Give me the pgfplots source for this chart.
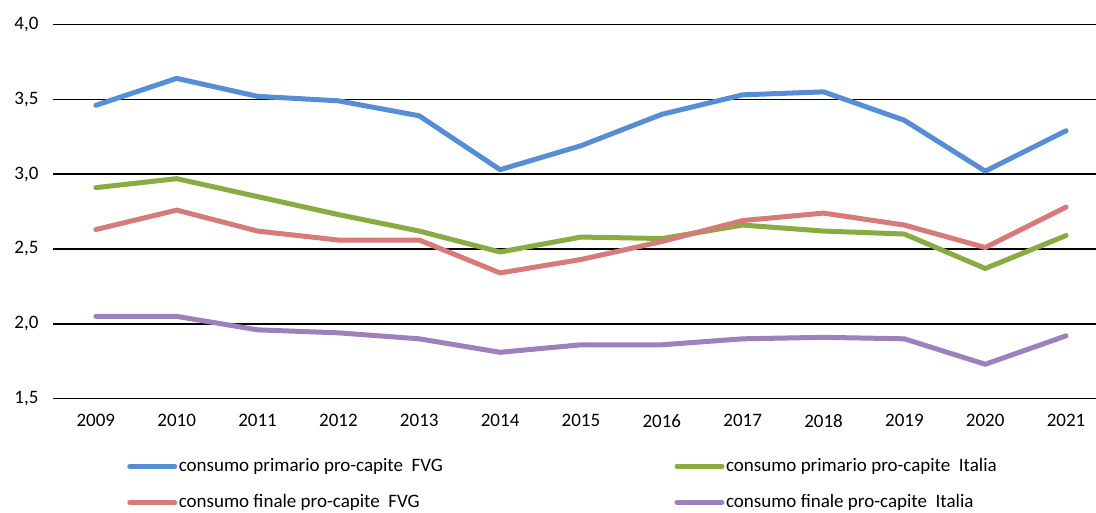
\documentclass[border=0pt]{standalone}
\usepackage{fontspec}
\setmainfont{Carlito}
\usepackage{pgfplots}
\pgfplotsset{compat=1.18}
\definecolor{cBlue}{RGB}{86,141,212}
\definecolor{cGreen}{RGB}{137,171,65}
\definecolor{cRed}{RGB}{214,122,122}
\definecolor{cPurple}{RGB}{158,128,188}
\begin{document}
\fontsize{19}{23}\selectfont
\begin{tikzpicture}
\useasboundingbox (0,0) rectangle (1096pt,513pt);
\begin{axis}[
  at={(53pt,114.3pt)}, anchor=south west,
  width=1043pt, height=374.2pt, scale only axis,
  xmin=2008.47, xmax=2021.37, ymin=1.5, ymax=4.0,
  xtick={2009,2010,...,2021}, ytick={1.5,2.0,2.5,3.0,3.5,4.0},
  /pgf/number format/assume math mode=true,
  xticklabel style={/pgf/number format/1000 sep={}, yshift=-9pt},
  yticklabel style={/pgf/number format/.cd, fixed, fixed zerofill, precision=1, use comma, /tikz/.cd, xshift=-8pt},
  axis line style={draw=none},
  major tick length=0pt,
  ymajorgrids, grid style={black, line width=1.6pt},
  every axis plot/.append style={line width=5pt, line join=round, line cap=round},
  legend columns=2,
  legend cell align=left,
  legend style={draw=none, fill=none, at={(0.071,-0.155)}, anchor=north west,
    inner sep=0pt, row sep=17pt, nodes={inner sep=1.5pt},
    /tikz/every even column/.append style={column sep=230pt}},
  legend image code/.code={\draw[#1, line width=5pt, line cap=round] (0pt,0pt) -- (45pt,0pt);},
  clip=false,
]
\addplot[cBlue] coordinates {(2009,3.46)(2010,3.64)(2011,3.52)(2012,3.49)(2013,3.39)(2014,3.03)(2015,3.19)(2016,3.40)(2017,3.53)(2018,3.55)(2019,3.36)(2020,3.02)(2021,3.29)};
\addlegendentry{consumo primario pro-capite\ \ FVG}
\addplot[cGreen] coordinates {(2009,2.91)(2010,2.97)(2011,2.85)(2012,2.73)(2013,2.62)(2014,2.48)(2015,2.58)(2016,2.57)(2017,2.66)(2018,2.62)(2019,2.60)(2020,2.37)(2021,2.59)};
\addlegendentry{consumo primario pro-capite\ \ Italia}
\addplot[cRed] coordinates {(2009,2.63)(2010,2.76)(2011,2.62)(2012,2.56)(2013,2.56)(2014,2.34)(2015,2.43)(2016,2.55)(2017,2.69)(2018,2.74)(2019,2.66)(2020,2.51)(2021,2.78)};
\addlegendentry{consumo finale pro-capite\ \ FVG}
\addplot[cPurple] coordinates {(2009,2.05)(2010,2.05)(2011,1.96)(2012,1.94)(2013,1.90)(2014,1.81)(2015,1.86)(2016,1.86)(2017,1.90)(2018,1.91)(2019,1.90)(2020,1.73)(2021,1.92)};
\addlegendentry{consumo finale pro-capite\ \ Italia}
\end{axis}
\end{tikzpicture}
\end{document}
